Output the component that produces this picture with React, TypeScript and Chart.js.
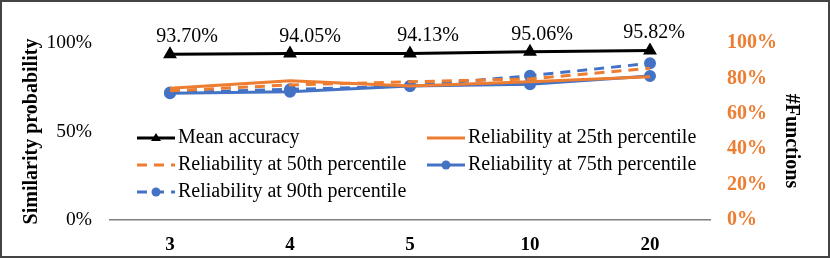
import React, { useEffect, useRef } from "react";
import { Chart, registerables } from "chart.js";

Chart.register(...registerables);

const categories = ["3", "4", "5", "10", "20"];
const meanAccuracy = [93.7, 94.05, 94.13, 95.06, 95.82];
const reliability25 = [74.4, 78.7, 75.7, 78.1, 81.0];
const reliability50 = [73.0, 76.3, 78.1, 79.7, 85.7];
const reliability75 = [71.6, 72.5, 75.7, 76.7, 81.4];
const reliability90 = [72.0, 73.8, 75.7, 81.5, 88.5];
const seriesLabels = [
  "Mean accuracy",
  "Reliability at 25th percentile",
  "Reliability at 50th percentile",
  "Reliability at 75th percentile",
  "Reliability at 90th percentile",
];
const leftAxisTitle = "Similarity probability";
const rightAxisTitle = "#Functions";

const FONT = '"Liberation Serif", "Times New Roman", serif';
const ORANGE = "#ED7D31";
const BLUE = "#4472C4";

// horizontal nudges of the data labels (layout only)
const LABEL_DX = [17, 20, 18, 12, 4];

const legendPlugin = {
  id: "customLegend",
  afterDraw(chart: any) {
    const ctx = chart.ctx;
    const slots = [
      [137, 138],
      [427, 138],
      [137, 165],
      [427, 165],
      [137, 192],
    ];
    ctx.save();
    chart.data.datasets.forEach((ds: any, i: number) => {
      const [x, y] = slots[i];
      ctx.strokeStyle = ds.borderColor;
      ctx.lineWidth = ds.borderWidth;
      ctx.setLineDash(ds.borderDash || []);
      ctx.beginPath();
      ctx.moveTo(x, y);
      ctx.lineTo(x + 38, y);
      ctx.stroke();
      ctx.setLineDash([]);
      if (ds.pointRadius > 0) {
        ctx.fillStyle = ds.pointBackgroundColor;
        ctx.beginPath();
        if (ds.pointStyle === "triangle") {
          const r = ds.pointRadius;
          ctx.moveTo(x + 19, y - r);
          ctx.lineTo(x + 19 + r, y + r * 0.6);
          ctx.lineTo(x + 19 - r, y + r * 0.6);
          ctx.closePath();
        } else {
          ctx.arc(x + 19, y, ds.pointRadius, 0, Math.PI * 2);
        }
        ctx.fill();
      }
      ctx.fillStyle = "#000";
      ctx.font = `20px ${FONT}`;
      ctx.textAlign = "left";
      ctx.textBaseline = "middle";
      ctx.fillText(ds.label, x + 41, y);
    });
    ctx.restore();
  },
};

const labelPlugin = {
  id: "meanLabels",
  afterDatasetsDraw(chart: any) {
    const ctx = chart.ctx;
    const meta = chart.getDatasetMeta(0);
    ctx.save();
    ctx.fillStyle = "#000";
    ctx.font = `20px ${FONT}`;
    ctx.textAlign = "center";
    ctx.textBaseline = "alphabetic";
    meta.data.forEach((pt: any, i: number) => {
      ctx.fillText(meanAccuracy[i].toFixed(2) + "%", pt.x + LABEL_DX[i], pt.y - 12);
    });
    ctx.restore();
  },
};

const borderPlugin = {
  id: "outerBorder",
  beforeDraw(chart: any) {
    const ctx = chart.ctx;
    ctx.save();
    ctx.fillStyle = "#fff";
    ctx.fillRect(0, 0, chart.width, chart.height);
    ctx.restore();
  },
  afterDraw(chart: any) {
    const ctx = chart.ctx;
    ctx.save();
    // right axis title
    ctx.translate(791, 141);
    ctx.rotate(Math.PI / 2);
    ctx.fillStyle = "#000";
    ctx.font = `bold 20px ${FONT}`;
    ctx.textAlign = "center";
    ctx.textBaseline = "middle";
    ctx.fillText(rightAxisTitle, 0, 0);
    ctx.restore();
    ctx.save();
    ctx.strokeStyle = "#444";
    ctx.lineWidth = 2;
    ctx.strokeRect(1, 1, chart.width - 2, chart.height - 2);
    ctx.restore();
  },
};

export default function App() {
  const ref = useRef<HTMLCanvasElement | null>(null);
  useEffect(() => {
    document.body.style.margin = "0";
    if (!ref.current) return;
    const chart = new Chart(ref.current, {
      type: "line",
      data: {
        labels: categories,
        datasets: [
          {
            label: seriesLabels[0],
            data: meanAccuracy,
            borderColor: "#000",
            backgroundColor: "#000",
            pointBackgroundColor: "#000",
            pointBorderColor: "#000",
            borderWidth: 3,
            pointStyle: "triangle",
            pointRadius: 5,
            yAxisID: "y",
          },
          {
            label: seriesLabels[1],
            data: reliability25,
            borderColor: ORANGE,
            backgroundColor: ORANGE,
            pointBackgroundColor: ORANGE,
            borderWidth: 3,
            pointRadius: 0,
            yAxisID: "y",
          },
          {
            label: seriesLabels[2],
            data: reliability50,
            borderColor: ORANGE,
            backgroundColor: ORANGE,
            pointBackgroundColor: ORANGE,
            borderWidth: 3,
            borderDash: [10, 7],
            pointRadius: 0,
            yAxisID: "y",
          },
          {
            label: seriesLabels[3],
            data: reliability75,
            borderColor: BLUE,
            backgroundColor: BLUE,
            pointBackgroundColor: BLUE,
            pointBorderColor: BLUE,
            borderWidth: 3,
            pointStyle: "circle",
            pointRadius: 4.5,
            yAxisID: "y",
          },
          {
            label: seriesLabels[4],
            data: reliability90,
            borderColor: BLUE,
            backgroundColor: BLUE,
            pointBackgroundColor: BLUE,
            pointBorderColor: BLUE,
            borderWidth: 3,
            borderDash: [10, 7],
            pointStyle: "circle",
            pointRadius: 4.5,
            yAxisID: "y",
          },
        ],
      },
      options: {
        responsive: false,
        animation: false,
        layout: { padding: { top: 43, left: 0, right: 0, bottom: 0 } },
        plugins: {
          legend: { display: false },
          tooltip: { enabled: false },
        },
        elements: { line: { tension: 0 }, point: { borderWidth: 0 } },
        scales: {
          x: {
            offset: true,
            grid: { display: false, drawTicks: false },
            border: { display: true, color: "#7f7f7f", width: 1.5 },
            ticks: {
              color: "#000",
              font: { family: FONT, size: 19, weight: "bold" },
              padding: 14,
            },
            afterFit: (s: any) => {
              s.height = 38;
            },
          },
          y: {
            position: "left",
            min: 0,
            max: 100,
            grid: { display: false, drawTicks: false },
            border: { display: false },
            ticks: {
              stepSize: 50,
              color: "#000",
              font: { family: FONT, size: 19.5 },
              padding: 18,
              callback: (v: any) => v + "%",
            },
            title: {
              display: true,
              text: leftAxisTitle,
              color: "#000",
              font: { family: FONT, size: 20, weight: "bold" },
              padding: { top: 20, bottom: 0 },
            },
            afterFit: (s: any) => {
              s.width = 110;
            },
          },
          y1: {
            position: "right",
            min: 0,
            max: 100,
            grid: { display: false, drawTicks: false },
            border: { display: false },
            ticks: {
              stepSize: 20,
              color: ORANGE,
              font: { family: FONT, size: 20, weight: "bold" },
              padding: 17,
              callback: (v: any) => v + "%",
            },
            title: { display: false },
            afterFit: (s: any) => {
              s.width = 120;
            },
          },
        },
      },
      plugins: [borderPlugin, labelPlugin, legendPlugin],
    } as any);
    return () => chart.destroy();
  }, []);
  return (
    <div style={{ width: 830, height: 258 }}>
      <canvas ref={ref} width={830} height={258} style={{ display: "block" }} />
    </div>
  );
}
